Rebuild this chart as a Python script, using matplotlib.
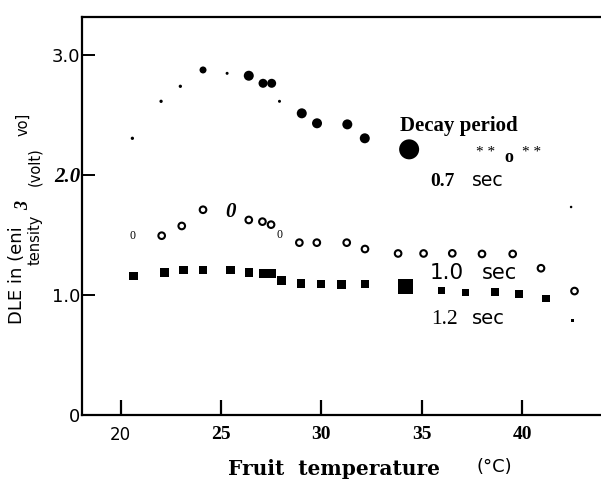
import matplotlib
matplotlib.use("Agg")
import matplotlib.pyplot as plt

# ---------------------------
# DATA (DLE intensity vs fruit temperature)
# ---------------------------

# 0.7 sec decay period (filled circles)
temp_07 = [20.58, 22.01, 22.97, 24.10, 25.30, 26.38, 27.09, 27.52, 27.91,
           29.02, 29.78, 31.29, 32.16, 34.37, 42.44]
dle_07 = [2.304, 2.612, 2.737, 2.873, 2.845, 2.825, 2.762, 2.762, 2.612,
          2.512, 2.429, 2.420, 2.304, 2.212, 1.732]

# 1.0 sec decay period (open circles)
temp_10 = [22.04, 23.04, 24.10, 26.38, 27.06, 27.49, 28.90, 29.77, 31.26,
           32.17, 33.82, 35.09, 36.52, 38.00, 39.53, 40.94, 42.61]
dle_10 = [1.493, 1.574, 1.709, 1.624, 1.610, 1.585, 1.435, 1.435, 1.435,
          1.382, 1.345, 1.345, 1.346, 1.341, 1.341, 1.222, 1.032]

# 1.0 sec points printed as "0"
temp_10_glyph = [20.60, 25.48, 27.91]
dle_10_glyph = [1.490, 1.693, 1.499]

# 1.2 sec decay period (filled squares)
temp_12 = [20.63, 22.17, 23.12, 24.10, 25.48, 26.38, 27.08, 27.51, 28.01,
           28.98, 29.97, 31.01, 32.17, 34.17, 35.98, 37.19, 38.64, 39.85,
           41.18, 42.51]
dle_12 = [1.157, 1.185, 1.207, 1.207, 1.207, 1.188, 1.180, 1.180, 1.118,
          1.095, 1.091, 1.087, 1.091, 1.068, 1.038, 1.022, 1.024, 1.006,
          0.972, 0.787]

xticks = [20, 25, 30, 35, 40]
xtick_labels = ["20", "25", "30", "35", "40"]
yticks = [0, 1, 2, 3]
ytick_labels = ["0", "1.0", "2.0", "3.0"]

# ---------------------------
# STYLE
# ---------------------------

# marker diameters in pixels
dot_px_07 = [3.3, 3.3, 3.3, 7, 3, 10, 9, 9, 3, 10, 10, 10, 10, 20, 2.5]
sq_px_12 = [8.5] * 13 + [15] + [7.5] * 5 + [2.5]


def area(px):
    return (px * 0.72) ** 2


SANS = "DejaVu Sans"
SERIF = "Liberation Serif"

fig = plt.figure(figsize=(6.01, 4.83), dpi=100)
ax = fig.add_axes([82 / 601, 68 / 483, 519 / 601, 398 / 483])

ax.scatter(temp_07, dle_07, s=[area(d) for d in dot_px_07], marker="o",
           color="black", linewidths=0, zorder=3)
ax.scatter(temp_10, dle_10, s=area(6.6), marker="o", facecolors="none",
           edgecolors="black", linewidths=1.5, zorder=3)
ax.scatter(temp_12, dle_12, s=[area(d) for d in sq_px_12], marker="s",
           color="black", linewidths=0, zorder=3)

for i, (t, v) in enumerate(zip(temp_10_glyph, dle_10_glyph)):
    if i == 1:
        ax.text(t, v, "0", family=SERIF, weight="bold", style="italic",
                fontsize=15, ha="center", va="center")
    else:
        ax.text(t, v, "0", family=SERIF, fontsize=8.5, ha="center", va="center")

ax.set_xlim(18.07, 43.93)
ax.set_ylim(0, 3.314)

ax.spines["right"].set_visible(False)
for side in ("left", "bottom", "top"):
    ax.spines[side].set_linewidth(1.6)

ax.set_xticks(xticks)
ax.set_xticklabels(xtick_labels)
ax.set_yticks(yticks)
ax.set_yticklabels(ytick_labels)
ax.tick_params(axis="x", direction="in", length=11, width=1.6, pad=8)
ax.tick_params(axis="y", direction="in", length=9.5, width=1.4, pad=1)

for lab in ax.get_xticklabels():
    if lab.get_text() == "20":
        lab.set_fontfamily(SANS)
        lab.set_fontsize(12)
    else:
        lab.set_fontfamily(SERIF)
        lab.set_fontweight("bold")
        lab.set_fontsize(14)

for lab in ax.get_yticklabels():
    if lab.get_text() == "2.0":
        lab.set_fontfamily(SERIF)
        lab.set_fontweight("bold")
        lab.set_fontstyle("italic")
        lab.set_fontsize(15)
    else:
        lab.set_fontfamily(SANS)
        lab.set_fontsize(13)

# key text
ax.text(33.92, 2.406, "Decay period", family=SERIF, weight="bold",
        fontsize=15, ha="left", va="center")
ax.text(38.17, 2.186, "* *", family=SERIF, fontsize=11, ha="center", va="center")
ax.text(39.35, 2.144, "o", family=SERIF, weight="bold", fontsize=13,
        ha="center", va="center")
ax.text(40.47, 2.186, "* *", family=SERIF, fontsize=11, ha="center", va="center")

ax.text(35.41, 1.907, "0.7", family=SERIF, weight="bold", fontsize=14,
        ha="left", va="baseline")
ax.text(37.50, 1.907, "sec", family=SANS, fontsize=13.5, ha="left", va="baseline")

ax.text(35.41, 1.130, "1.0", family=SANS, fontsize=15.5, ha="left", va="baseline")
ax.text(38.00, 1.130, "sec", family=SANS, fontsize=15, ha="left", va="baseline")

ax.text(35.49, 0.758, "1.2", family=SERIF, fontsize=15.5, ha="left", va="baseline")
ax.text(37.49, 0.758, "sec", family=SANS, fontsize=14, ha="left", va="baseline")

# axis titles
fig.text(228 / 601, 1 - 469 / 483, "Fruit  temperature", family="DejaVu Serif",
         weight="bold", fontsize=14.5, ha="left", va="center")
fig.text(477 / 601, 1 - 467 / 483, "(°C)", family=SANS, fontsize=13,
         ha="left", va="center")


def ylab(x, y, s, **kw):
    fig.text(x / 601, 1 - y / 483, s, rotation=90, ha="center", va="center", **kw)


ylab(17, 275, "DLE in (eni", family=SANS, fontsize=13)
ylab(24, 206, "3", family=SERIF, weight="bold", style="italic", fontsize=13)
ylab(35, 240, "tensity", family=SANS, fontsize=10.5)
ylab(35, 167, "(volt)", family=SANS, fontsize=10.5)
ylab(23, 124, "vo]", family=SANS, fontsize=10.5)

fig.savefig("out.png", dpi=100)
